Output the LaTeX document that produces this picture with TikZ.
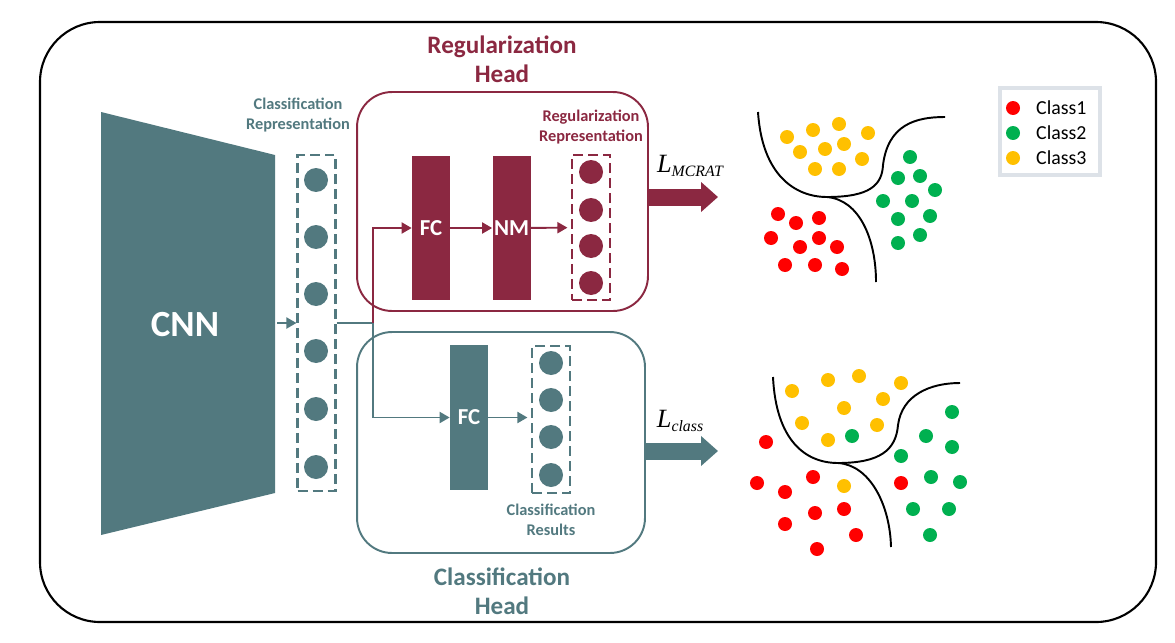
\documentclass[tikz,border=0pt]{standalone}
\usepackage{fontspec}
\setmainfont{Carlito}
\newfontfamily\lossfont{Liberation Serif}
\usetikzlibrary{positioning,arrows.meta,calc}

\definecolor{clsteal}{HTML}{52797F}
\definecolor{regred}{HTML}{8B2841}
\definecolor{cone}{HTML}{FF0000}
\definecolor{ctwo}{HTML}{00B050}
\definecolor{cthree}{HTML}{FFC000}
\definecolor{legline}{HTML}{DDE2E8}

\newcommand{\lossterm}[1]{{\lossfont\itshape\fontsize{15}{15}\selectfont L}%
  {\lossfont\itshape\fontsize{9}{9}\selectfont\raisebox{-0.3em}{#1}}}

\begin{document}
\begin{tikzpicture}[x=0.02cm, y=-0.02cm,
  layer/.style = {rectangle, minimum width=0.76cm, minimum height=2.88cm,
    inner sep=0pt, text=white, font=\bfseries\fontsize{13}{13}\selectfont},
  vecbox/.style = {rectangle, draw, dash pattern=on 0.2cm off 0.1cm,
    line width=1.2pt, minimum width=0.76cm, inner sep=0pt},
  neuron/.style = {circle, minimum size=0.48cm, inner sep=0pt},
  headbox/.style = {rectangle, rounded corners=0.7cm, line width=1.1pt, inner sep=0pt},
  headlbl/.style = {align=center, font=\bfseries\fontsize{14.3}{16.5}\selectfont},
  replbl/.style = {align=center, font=\bfseries\fontsize{9.3}{11.3}\selectfont},
  link/.style = {line width=1.1pt, -{Triangle[length=0.2cm,width=0.22cm]}},
  fatarrow/.style = {line width=0.34cm, -{Triangle[length=0.34cm,width=0.58cm]}},
  dot/.style = {radius=0.14cm},
  boundary/.style = {line width=1.1pt},
]
\useasboundingbox (0,0) rectangle (1175,642);
\draw[line width=1.2pt, rounded corners=1.2cm] (40,22) rectangle (1156,622);

% backbone
\fill[clsteal] (101,112) -- (275,155) -- (275,493) -- (101,535) -- cycle;
\node[text=white, font=\bfseries\fontsize{21}{21}\selectfont] (cnn) at (185,325) {CNN};
\coordinate (cnnout) at (277,323);

% classification representation
\node[vecbox, draw=clsteal, minimum height=6.72cm] (clsrep) at (316.5,323) {};
\foreach \y [count=\i] in {180,237,294,351,409,467}
  \node[neuron, fill=clsteal] (cr\i) at (316,\y) {};
\node[replbl, text=clsteal] (clsreplbl) at (298,115) {Classification\\Representation};
\draw[link, clsteal] (cnnout) -- (clsrep.west);

% regularization head
\node[headbox, draw=regred, minimum width=5.82cm, minimum height=4.38cm] (reghead) at (502.5,201.5) {};
\node[headlbl, text=regred] (regheadlbl) at (502,59) {Regularization\\Head};
\node[layer, fill=regred] (regfc) at (431,228) {FC};
\node[layer, fill=regred] (regnm) at (511.5,228) {NM};
\node[vecbox, draw=regred, minimum height=2.9cm] (regrep) at (591,227.5) {};
\foreach \y [count=\i] in {172,210,246,283}
  \node[neuron, fill=regred] (rr\i) at (591,\y) {};
\node[replbl, text=regred] (regreplbl) at (591,127) {Regularization\\Representation};

% classification head
\node[headbox, draw=clsteal, minimum width=5.76cm, minimum height=4.42cm] (clshead) at (501,442.5) {};
\node[headlbl, text=clsteal] (clsheadlbl) at (502,591) {Classification\\Head};
\node[layer, fill=clsteal, minimum height=2.9cm] (clsfc) at (469,417.5) {FC};
\node[vecbox, draw=clsteal, minimum height=2.94cm] (clsres) at (551,419.5) {};
\foreach \y [count=\i] in {363,400,437,475}
  \node[neuron, fill=clsteal] (cs\i) at (551,\y) {};
\node[replbl, text=clsteal] (clsreslbl) at (551,520) {Classification\\Results};

% connections
\coordinate (split) at (373,323);
\draw[line width=1.1pt, clsteal] (clsrep.east) -- (split);
\draw[link, clsteal] (split) |- (clsfc.west);
\draw[link, regred] (split) |- (regfc.west);
\draw[link, regred] (regfc) -- (regnm);
\draw[link, regred, shorten >=2pt] (regnm) -- (regrep);
\draw[link, clsteal, shorten >=2pt] (clsfc) -- (clsres.west |- clsfc);

% losses
\coordinate (regout) at (718,197);
\coordinate (clsout) at (718,451);
\draw[fatarrow, regred] (reghead.east |- regout) -- (regout);
\draw[fatarrow, clsteal] (clshead.east |- clsout) -- (clsout);
\node (regloss) at (690,166) {\lossterm{MCRAT}};
\node (clsloss) at (680,421) {\lossterm{class}};

% feature space, regularization
\draw[boundary] (758,112) .. controls (762,175) and (795,197) .. (827,197)
  .. controls (870,197) and (882,185) .. (883,165)
  .. controls (888,125) and (915,117) .. (945,117);
\draw[boundary] (827,197) .. controls (860,200) and (876,240) .. (876,282);
\foreach \x/\y in {787/137,813/130,839/124,868/133,800/152,825/149,844/144,862/159,815/169,839/169}
  \fill[cthree] (\x,\y) circle[dot];
\foreach \x/\y in {910/157,898/178,920/176,935/190,883/201,912/201,930/216,898/219,920/235,898/243}
  \fill[ctwo] (\x,\y) circle[dot];
\foreach \x/\y in {778/214,796/223,819/218,771/238,819/238,800/247,837/247,785/265,815/265,842/269}
  \fill[cone] (\x,\y) circle[dot];

% feature space, classification
\draw[boundary] (773,377) .. controls (776,440) and (805,463) .. (838,463)
  .. controls (880,463) and (896,450) .. (898,425)
  .. controls (902,395) and (930,383) .. (960,383);
\draw[boundary] (838,463) .. controls (870,465) and (890,505) .. (891,547);
\foreach \x/\y in {792/391,828/380,859/376,901/383,883/399,844/408,802/423,877/425,828/440,844/486}
  \fill[cthree] (\x,\y) circle[dot];
\foreach \x/\y in {952/412,926/436,852/436,952/447,901/456,931/477,960/482,913/509,949/509,930/535}
  \fill[ctwo] (\x,\y) circle[dot];
\foreach \x/\y in {766/442,757/483,813/477,785/492,901/483,844/509,815/513,785/524,856/535,817/549}
  \fill[cone] (\x,\y) circle[dot];

% legend
\node[draw=legline, line width=2.2pt, minimum width=2cm, minimum height=1.74cm] (legend) at (1050,131.5) {};
\foreach \c/\y/\t in {cone/108/Class1, ctwo/133/Class2, cthree/158/Class3} {
  \fill[\c] (1013,\y) circle[dot];
  \node[anchor=west, font=\fontsize{11.3}{11.3}\selectfont] (leg\t) at (1030,\y) {\t};
}
\end{tikzpicture}
\end{document}
